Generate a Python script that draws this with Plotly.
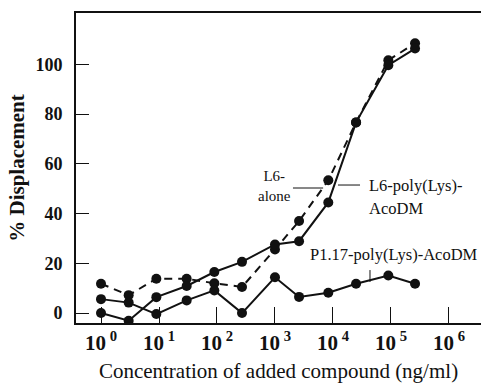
import plotly.graph_objects as go

# Concentration of added compound (ng/ml), roughly half-decade steps
conc = [1, 3, 9, 30, 90, 270, 1000, 2600, 8300, 25000, 90000, 260000]

# % Displacement for each conjugate
l6_alone = [11.8, 7.2, 13.8, 13.8, 12.0, 10.5, 25.6, 37.0, 53.4, 76.7, 101.7, 108.5]
l6_polylys = [0.0, -3.1, 6.4, 10.9, 16.5, 20.6, 27.6, 28.9, 44.5, 76.7, 99.7, 106.4]
p117_polylys = [5.6, 4.2, -0.4, 5.1, 9.1, 0.0, 14.4, 6.5, 8.2, 11.8, 15.1, 11.8]

x_tickvals = [1, 10, 100, 1000, 10000, 100000, 1000000]
x_ticktext = ["10<sup> %d</sup>" % i for i in range(7)]
y_tickvals = [0, 20, 40, 60, 80, 100]

SERIF = "Liberation Serif, Times New Roman, serif"
BLACK = "#111111"

fig = go.Figure()

marker = dict(size=10, color=BLACK, symbol="circle")

fig.add_trace(go.Scatter(x=conc, y=l6_alone, mode="lines+markers",
                         line=dict(color=BLACK, width=2, dash="8px,6px"),
                         marker=marker, name="L6-alone"))
fig.add_trace(go.Scatter(x=conc, y=l6_polylys, mode="lines+markers",
                         line=dict(color=BLACK, width=2),
                         marker=marker, name="L6-poly(Lys)-AcoDM"))
fig.add_trace(go.Scatter(x=conc, y=p117_polylys, mode="lines+markers",
                         line=dict(color=BLACK, width=2),
                         marker=marker, name="P1.17-poly(Lys)-AcoDM"))


def label(x_log, y, text, anchor, size=16.5, align="left"):
    fig.add_annotation(x=x_log, y=y, xref="x", yref="y", text=text,
                       showarrow=False, xanchor=anchor, yanchor="middle",
                       align=align,
                       font=dict(family=SERIF, size=size, color=BLACK))


# curve labels
label(3.0, 51.3, "L6-<br>alone", "center", size=15, align="center")
label(4.586, 51.3, "L6-poly(Lys)-", "left")
label(4.586, 42.2, "AcoDM", "left")
label(3.57, 23.6, "P1.17-poly(Lys)-AcoDM", "left")

# leader lines from the labels to their curves
leader = dict(color=BLACK, width=1)
fig.add_shape(type="line", xref="x", yref="y", x0=10 ** 3.31, x1=10 ** 3.83,
              y0=50.3, y1=50.3, line=leader)
fig.add_shape(type="line", xref="x", yref="y", x0=10 ** 4.086, x1=10 ** 4.466,
              y0=51.5, y1=51.5, line=leader)
fig.add_shape(type="line", xref="x", yref="y", x0=10 ** 4.638, x1=10 ** 4.638,
              y0=17.3, y1=12.5, line=leader)

fig.update_layout(
    width=481, height=383,
    margin=dict(l=76, r=0, t=13, b=60),
    paper_bgcolor="white", plot_bgcolor="white",
    showlegend=False,
    font=dict(family=SERIF, color=BLACK),
)

fig.update_xaxes(
    type="log", range=[-0.431, 6.552],
    tickvals=x_tickvals, ticktext=x_ticktext,
    ticks="inside", ticklen=16, tickwidth=1, tickcolor=BLACK,
    showline=True, linecolor=BLACK, linewidth=2, mirror=True,
    showgrid=False, zeroline=False,
    tickfont=dict(family=SERIF, size=21, color=BLACK, weight="bold"),
    title=dict(text="Concentration of added compound (ng/ml)",
               font=dict(family=SERIF, size=21, color=BLACK), standoff=9),
)
fig.update_yaxes(
    range=[-4.0, 120.7],
    tickvals=y_tickvals,
    ticks="inside", ticklen=13, tickwidth=1, tickcolor=BLACK,
    showline=True, linecolor=BLACK, linewidth=2, mirror=False,
    showgrid=False, zeroline=False,
    tickfont=dict(family=SERIF, size=18, color=BLACK, weight="bold"),
    ticklabelstandoff=8,
    title=dict(text="% Displacement",
               font=dict(family=SERIF, size=21, color=BLACK, weight="bold"),
               standoff=5),
)

fig.write_html("out.html")
